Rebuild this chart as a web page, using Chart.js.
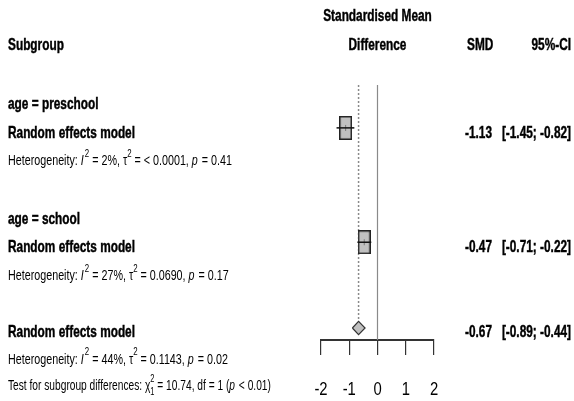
<!DOCTYPE html>
<html>
<head>
<meta charset="utf-8">
<script src="https://cdn.jsdelivr.net/npm/chart.js@4.4.1/dist/chart.umd.min.js"></script>
<style>
  html, body { margin: 0; padding: 0; background: #fff; }
  #wrap { width: 574px; height: 401px; position: relative; }
</style>
</head>
<body>
<div id="wrap"><canvas id="forest"></canvas></div>
<script>
// --- data ---
const subgroups = ['preschool', 'school'];
const smd = [-1.13, -0.47];
const ciLower = [-1.45, -0.71];
const ciUpper = [-0.82, -0.22];
const hetText = [['2%', '< 0.0001', '0.41'], ['27%', '0.0690', '0.17']];

const overallSmd = -0.67;
const overallLower = -0.89;
const overallUpper = -0.44;
const overallHet = ['44%', '0.1143', '0.02'];
const subgroupTest = ['10.74', '1', '< 0.01'];

const xTicks = [-2, -1, 0, 1, 2];

// rows (one text line each)
const groupRows = [4, 8];
const overallRow = 11;
const yMin = 2.5, yMax = 11.42;

const FONT = '"Liberation Sans", Arial, sans-serif';
const BOLD = 'bold 17px ' + FONT;
const NORM = 15;

// box marker, R style (not square)
function makeBox() {
    const c = document.createElement('canvas');
    c.width = 13; c.height = 24;
    const g = c.getContext('2d');
    g.fillStyle = '#c0c0c0';
    g.fillRect(0.75, 0.75, 11.5, 22.5);
    g.strokeStyle = '#222';
    g.lineWidth = 1.5;
    g.strokeRect(0.75, 0.75, 11.5, 22.5);
    g.strokeStyle = '#777';
    g.lineWidth = 1;
    g.beginPath(); g.moveTo(6.5, 9); g.lineTo(6.5, 15); g.stroke();
    return c;
}
const boxImg = makeBox();

function txt(ctx, s, x, y, align, font, sx, heavy) {
    ctx.save();
    ctx.translate(x, y);
    ctx.scale(sx, 1);
    ctx.font = font;
    ctx.textAlign = align;
    ctx.textBaseline = 'alphabetic';
    ctx.fillText(s, 0, 0);
    if (heavy) {
        ctx.strokeStyle = '#000';
        ctx.lineWidth = 0.45;
        ctx.strokeText(s, 0, 0);
    }
    ctx.restore();
}

// run of pieces: n normal, i italic, sup, ss (stacked sup/sub)
// returns the unscaled width; draws only when draw is true
function drawRuns(ctx, x0, y, runs, size, sx, draw = true) {
    ctx.save();
    ctx.translate(x0, y);
    ctx.scale(sx, 1);
    ctx.textBaseline = 'alphabetic';
    ctx.textAlign = 'left';
    const small = Math.round(size * 0.75);
    let x = 0;
    const put = (s, px, py) => { if (draw) ctx.fillText(s, px, py); };
    runs.forEach(r => {
        if (r.n !== undefined) {
            ctx.font = size + 'px ' + FONT;
            put(r.n, x, 0);
            x += ctx.measureText(r.n).width;
        } else if (r.i !== undefined) {
            ctx.font = 'italic ' + size + 'px ' + FONT;
            put(r.i, x, 0);
            x += ctx.measureText(r.i).width + 1.5;
        } else if (r.sup !== undefined) {
            ctx.font = small + 'px ' + FONT;
            put(r.sup, x, -size * 0.55);
            x += ctx.measureText(r.sup).width;
        } else if (r.ss !== undefined) {
            ctx.font = small + 'px ' + FONT;
            put(r.ss[0], x, -size * 0.55);
            put(r.ss[1], x, size * 0.35);
            x += Math.max(ctx.measureText(r.ss[0]).width, ctx.measureText(r.ss[1]).width);
        }
    });
    ctx.restore();
    return x;
}

function hetRuns(h) {
    return [
        { n: 'Heterogeneity: ' }, { i: 'I' }, { sup: '2' }, { n: ' = ' + h[0] + ', \u03c4' },
        { sup: '2' }, { n: ' = ' + h[1] + ', ' }, { i: 'p' }, { n: ' = ' + h[2] }
    ];
}

const textPlugin = {
    id: 'forestText',
    afterDraw(chart) {
        const ctx = chart.ctx;
        const ys = chart.scales.y;
        const xs = chart.scales.x;
        const rowY = r => ys.getPixelForValue(r);
        ctx.save();
        ctx.fillStyle = '#000';
        ctx.font = BOLD;
        const sxBold = 127 / ctx.measureText('Random effects model').width;
        const sxNorm = 224 / drawRuns(ctx, 0, 0, hetRuns(hetText[0]), NORM, 1, false);
        const B = (s, x, y, align) => txt(ctx, s, x, y, align, BOLD, sxBold, true);

        // headers
        const mid = xs.getPixelForValue(0);
        B('Standardised Mean', mid, 21, 'center');
        B('Difference', mid, 50, 'center');
        B('Subgroup', 8, 50, 'left');
        B('SMD', 467, 50, 'left');
        B('95%-CI', 571, 50, 'right');

        const fmt = v => v.toFixed(2);
        subgroups.forEach((s, k) => {
            const r = groupRows[k];
            B('age = ' + s, 8, rowY(r - 1) + 10, 'left');
            B('Random effects model', 8, rowY(r) + 10, 'left');
            B(fmt(smd[k]), 492, rowY(r) + 10, 'right');
            B('[' + fmt(ciLower[k]) + '; ' + fmt(ciUpper[k]) + ']', 571, rowY(r) + 10, 'right');
            drawRuns(ctx, 8, rowY(r + 1) + 9, hetRuns(hetText[k]), NORM, sxNorm);
        });

        const ro = overallRow;
        B('Random effects model', 8, rowY(ro) + 9, 'left');
        B(fmt(overallSmd), 492, rowY(ro) + 9, 'right');
        B('[' + fmt(overallLower) + '; ' + fmt(overallUpper) + ']', 571, rowY(ro) + 9, 'right');
        drawRuns(ctx, 8, rowY(ro + 1) + 7, hetRuns(overallHet), NORM, sxNorm);
        drawRuns(ctx, 8, rowY(ro + 2) + 5, [
            { n: 'Test for subgroup differences: \u03c7' }, { ss: ['2', subgroupTest[1]] },
            { n: ' = ' + subgroupTest[0] + ', df = ' + subgroupTest[1] + ' (' }, { i: 'p' },
            { n: ' ' + subgroupTest[2] + ')' }
        ], NORM, sxNorm * 0.95);

        // tick labels, placed by the x scale
        xs.ticks.forEach(t => {
            txt(ctx, String(t.value), xs.getPixelForValue(t.value), 395, 'center', '19px ' + FONT, 0.78, false);
        });
        ctx.restore();
    }
};

// datasets
const datasets = [];
// line of no effect
datasets.push({
    data: [{ x: 0, y: yMin }, { x: 0, y: yMax }],
    showLine: true, borderColor: '#8a8a8a', borderWidth: 1.2, pointRadius: 0, order: 5
});
// overall estimate, dotted
datasets.push({
    data: [{ x: overallSmd, y: yMin }, { x: overallSmd, y: overallRow - 0.23 }],
    showLine: true, borderColor: '#8a8a8a', borderWidth: 1.5, borderDash: [2, 2],
    pointRadius: 0, order: 5
});
// subgroup boxes
datasets.push({
    data: smd.map((v, k) => ({ x: v, y: groupRows[k] })),
    pointStyle: boxImg, pointRadius: 10, order: 3
});
// CIs
smd.forEach((v, k) => {
    datasets.push({
        data: [{ x: ciLower[k], y: groupRows[k] }, { x: ciUpper[k], y: groupRows[k] }],
        showLine: true, borderColor: '#111', borderWidth: 1.5, pointRadius: 0, order: 1
    });
});
// overall diamond
datasets.push({
    data: [
        { x: overallLower, y: overallRow }, { x: overallSmd, y: overallRow - 0.23 },
        { x: overallUpper, y: overallRow }, { x: overallSmd, y: overallRow + 0.23 },
        { x: overallLower, y: overallRow }
    ],
    showLine: true, fill: 'shape', backgroundColor: '#c0c0c0', borderColor: '#333',
    borderWidth: 1.2, pointRadius: 0, tension: 0, order: 2
});

new Chart(document.getElementById('forest'), {
    type: 'scatter',
    data: { datasets },
    options: {
        responsive: true,
        maintainAspectRatio: false,
        animation: false,
        layout: { padding: { left: 321, right: 140, top: 85, bottom: 0 } },
        plugins: { legend: { display: false }, tooltip: { enabled: false } },
        scales: {
            x: {
                type: 'linear', min: xTicks[0], max: xTicks[xTicks.length - 1],
                afterBuildTicks: s => { s.ticks = xTicks.map(v => ({ value: v })); },
                afterFit: s => { s.height = 61; },
                border: { color: '#333', width: 2 },
                grid: { drawOnChartArea: false, drawTicks: true, tickLength: 15, color: '#333', lineWidth: 1.2 },
                ticks: { color: 'rgba(0,0,0,0)', font: { family: FONT, size: 16 } }
            },
            y: {
                type: 'linear', min: yMin, max: yMax, reverse: true, display: false
            }
        }
    },
    plugins: [textPlugin]
});
</script>
</body>
</html>
